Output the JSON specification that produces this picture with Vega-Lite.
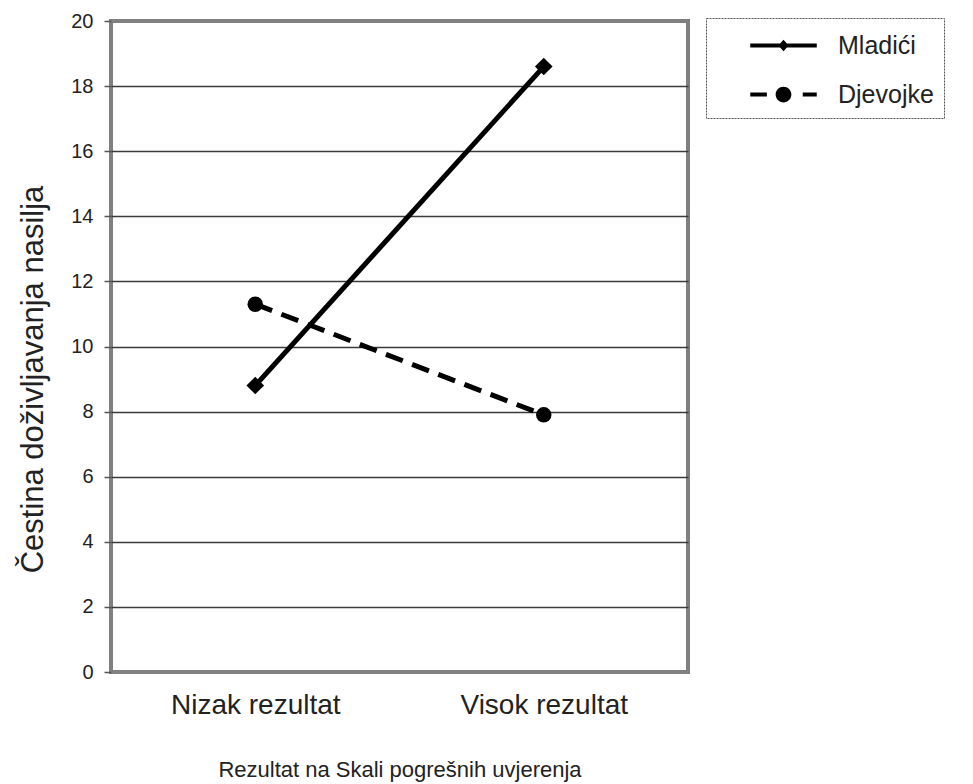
{
  "$schema": "https://vega.github.io/schema/vega-lite/v6.json",
  "autosize": {"type": "none"},
  "padding": {"left": 111, "top": 21, "right": 285, "bottom": 112},
  "width": 577,
  "height": 651,
  "background": "white",
  "data": {
    "values": [
      {"g": "Mladići", "x": "Nizak rezultat", "y": 8.8},
      {"g": "Mladići", "x": "Visok rezultat", "y": 18.6},
      {"g": "Djevojke", "x": "Nizak rezultat", "y": 11.3},
      {"g": "Djevojke", "x": "Visok rezultat", "y": 7.9}
    ]
  },
  "encoding": {
    "x": {
      "field": "x", "type": "nominal",
      "scale": {"type": "point", "padding": 0.5, "domain": ["Nizak rezultat", "Visok rezultat"]},
      "axis": {
        "title": "Rezultat na Skali pogrešnih uvjerenja",
        "labelAngle": 0, "labelFontSize": 28, "labelPadding": 19, "ticks": false, "domain": false,
        "titleFontSize": 22, "titlePadding": 40, "titleFontWeight": "normal",
        "labelColor": "#222", "titleColor": "#222"
      }
    },
    "y": {
      "field": "y", "type": "quantitative",
      "scale": {"domain": [0, 20], "nice": false, "zero": true},
      "axis": {
        "title": "Čestina doživljavanja nasilja",
        "values": [0, 2, 4, 6, 8, 10, 12, 14, 16, 18, 20],
        "labelFontSize": 20, "labelPadding": 11, "tickSize": 7, "tickColor": "#555", "tickWidth": 1.5,
        "domain": false, "grid": true, "gridColor": "#3a3a3a", "gridWidth": 1.3,
        "gridOpacity": {"condition": {"test": "datum.value === 0 || datum.value === 20", "value": 0}, "value": 1},
        "titleFontSize": 31, "titleFontWeight": "normal", "titleX": -78, "titleY": 358,
        "titleBaseline": "middle", "titleAlign": "center",
        "labelColor": "#222", "titleColor": "#222"
      }
    }
  },
  "layer": [
    {
      "transform": [{"filter": "datum.g === 'Mladići'"}],
      "mark": {"type": "line", "stroke": "black", "strokeWidth": 5},
      "encoding": {}
    },
    {
      "transform": [{"filter": "datum.g === 'Djevojke'"}],
      "mark": {"type": "line", "stroke": "black", "strokeWidth": 5, "strokeDash": [18, 10]},
      "encoding": {}
    },
    {
      "transform": [{"filter": "datum.g === 'Mladići'"}],
      "mark": {"type": "point", "shape": "diamond", "filled": true, "fill": "black", "opacity": 1, "size": 310},
      "encoding": {}
    },
    {
      "transform": [{"filter": "datum.g === 'Djevojke'"}],
      "mark": {"type": "point", "shape": "circle", "filled": true, "fill": "black", "opacity": 1, "size": 240},
      "encoding": {}
    },
    {
      "mark": {"type": "point", "filled": true, "fill": "black", "opacity": 0, "size": 1225},
      "encoding": {
        "shape": {
          "field": "g", "type": "nominal",
          "scale": {
            "domain": ["Mladići", "Djevojke"],
            "range": [
              "M-1.9,-0.11H1.9V0.11H-1.9Z M0,-0.33L0.3,0L0,0.33L-0.3,0Z",
              "M-1.9,-0.11H-0.95V0.11H-1.9Z M1.1,-0.11H1.9V0.11H1.1Z M-0.45,0A0.45,0.45 0 1,0 0.45,0A0.45,0.45 0 1,0 -0.45,0Z"
            ]
          },
          "legend": {
            "title": null,
            "orient": "none", "legendX": 595, "legendY": -3,
            "fillColor": "white", "strokeColor": "#555", "padding": 10,
            "symbolSize": 1225, "symbolFillColor": "black", "symbolStrokeWidth": 0, "symbolOpacity": 1,
            "symbolOffset": 50, "labelOffset": 37, "rowPadding": 18,
            "labelFontSize": 25, "labelColor": "#222",
            "encoding": {
              "legend": {
                "strokeDash": {"value": [2, 1]},
                "strokeWidth": {"value": 1}
              },
              "symbols": {
                "fill": {"value": "black"},
                "opacity": {"value": 1}
              }
            }
          }
        }
      }
    }
  ],
  "config": {
    "font": "Liberation Sans",
    "view": {"stroke": "#808080", "strokeWidth": 4}
  }
}
